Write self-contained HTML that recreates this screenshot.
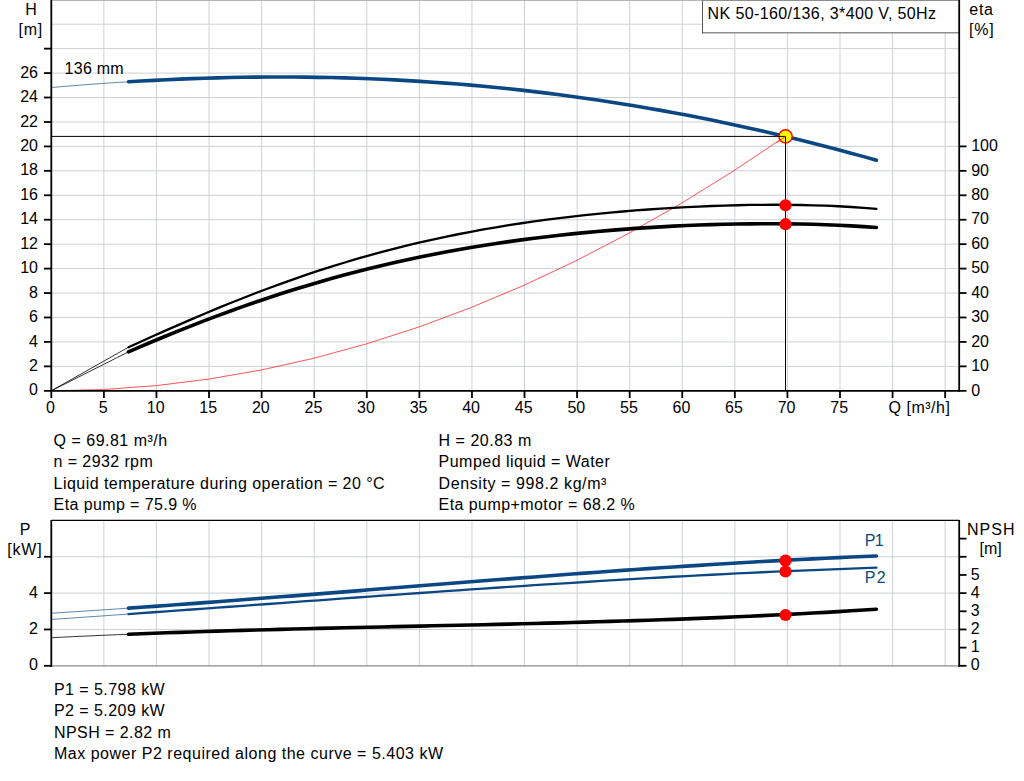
<!DOCTYPE html>
<html><head><meta charset="utf-8"><title>Pump curve</title>
<style>html,body{margin:0;padding:0;background:#fff;}body{width:1024px;height:781px;overflow:hidden;font-family:"Liberation Sans",sans-serif;}svg{display:block;}text{white-space:pre;}</style>
</head><body>
<svg width="1024" height="781" viewBox="0 0 1024 781">
<rect width="1024" height="781" fill="#fff"/>
<g stroke="#cdd1d4" stroke-width="1" fill="none">
<line x1="103.88" y1="0" x2="103.88" y2="390.8"/>
<line x1="103.88" y1="520.5" x2="103.88" y2="665.8"/>
<line x1="156.46" y1="0" x2="156.46" y2="390.8"/>
<line x1="156.46" y1="520.5" x2="156.46" y2="665.8"/>
<line x1="209.04" y1="0" x2="209.04" y2="390.8"/>
<line x1="209.04" y1="520.5" x2="209.04" y2="665.8"/>
<line x1="261.62" y1="0" x2="261.62" y2="390.8"/>
<line x1="261.62" y1="520.5" x2="261.62" y2="665.8"/>
<line x1="314.20" y1="0" x2="314.20" y2="390.8"/>
<line x1="314.20" y1="520.5" x2="314.20" y2="665.8"/>
<line x1="366.78" y1="0" x2="366.78" y2="390.8"/>
<line x1="366.78" y1="520.5" x2="366.78" y2="665.8"/>
<line x1="419.36" y1="0" x2="419.36" y2="390.8"/>
<line x1="419.36" y1="520.5" x2="419.36" y2="665.8"/>
<line x1="471.94" y1="0" x2="471.94" y2="390.8"/>
<line x1="471.94" y1="520.5" x2="471.94" y2="665.8"/>
<line x1="524.52" y1="0" x2="524.52" y2="390.8"/>
<line x1="524.52" y1="520.5" x2="524.52" y2="665.8"/>
<line x1="577.10" y1="0" x2="577.10" y2="390.8"/>
<line x1="577.10" y1="520.5" x2="577.10" y2="665.8"/>
<line x1="629.68" y1="0" x2="629.68" y2="390.8"/>
<line x1="629.68" y1="520.5" x2="629.68" y2="665.8"/>
<line x1="682.26" y1="0" x2="682.26" y2="390.8"/>
<line x1="682.26" y1="520.5" x2="682.26" y2="665.8"/>
<line x1="734.84" y1="0" x2="734.84" y2="390.8"/>
<line x1="734.84" y1="520.5" x2="734.84" y2="665.8"/>
<line x1="787.42" y1="0" x2="787.42" y2="390.8"/>
<line x1="787.42" y1="520.5" x2="787.42" y2="665.8"/>
<line x1="840.00" y1="0" x2="840.00" y2="390.8"/>
<line x1="840.00" y1="520.5" x2="840.00" y2="665.8"/>
<line x1="892.58" y1="0" x2="892.58" y2="390.8"/>
<line x1="892.58" y1="520.5" x2="892.58" y2="665.8"/>
<line x1="945.16" y1="0" x2="945.16" y2="390.8"/>
<line x1="945.16" y1="520.5" x2="945.16" y2="665.8"/>
<line x1="51.3" y1="366.36" x2="959.2" y2="366.36"/>
<line x1="51.3" y1="341.92" x2="959.2" y2="341.92"/>
<line x1="51.3" y1="317.48" x2="959.2" y2="317.48"/>
<line x1="51.3" y1="293.04" x2="959.2" y2="293.04"/>
<line x1="51.3" y1="268.60" x2="959.2" y2="268.60"/>
<line x1="51.3" y1="244.16" x2="959.2" y2="244.16"/>
<line x1="51.3" y1="219.72" x2="959.2" y2="219.72"/>
<line x1="51.3" y1="195.28" x2="959.2" y2="195.28"/>
<line x1="51.3" y1="170.84" x2="959.2" y2="170.84"/>
<line x1="51.3" y1="146.40" x2="959.2" y2="146.40"/>
<line x1="51.3" y1="121.96" x2="959.2" y2="121.96"/>
<line x1="51.3" y1="97.52" x2="959.2" y2="97.52"/>
<line x1="51.3" y1="73.08" x2="959.2" y2="73.08"/>
<line x1="51.3" y1="48.64" x2="959.2" y2="48.64"/>
<line x1="51.3" y1="24.20" x2="959.2" y2="24.20"/>
<line x1="51.3" y1="629.46" x2="959.2" y2="629.46"/>
<line x1="51.3" y1="593.12" x2="959.2" y2="593.12"/>
<line x1="51.3" y1="556.78" x2="959.2" y2="556.78"/>
</g>
<line x1="51.3" y1="0.45" x2="959.2" y2="0.45" stroke="#a8a8a8" stroke-width="0.9"/>
<line x1="51.3" y1="520.4" x2="959.2" y2="520.4" stroke="#000" stroke-width="1.2"/>
<line x1="51.3" y1="665.8" x2="959.2" y2="665.8" stroke="#8a8a8a" stroke-width="1.3"/>
<g fill="none" stroke-linecap="round" stroke-linejoin="round">
<path d="M51.30,390.80 L103.74,389.50 L156.17,385.61 L208.61,379.11 L261.05,370.02 L313.49,358.33 L365.92,344.05 L418.36,327.16 L470.80,307.68 L523.24,285.61 L575.67,260.93 L628.11,233.66 L680.55,203.79 L732.98,171.32 L785.42,136.26" stroke="#ff2a2a" stroke-width="0.8" stroke-linecap="butt"/>
<path d="M51.30,87.53 L59.88,86.79 L68.46,86.07 L77.03,85.38 L85.61,84.71 L94.19,84.06 L102.77,83.45 L111.34,82.86 L119.92,82.29 L128.50,81.75" stroke="#0a4783" stroke-width="0.65" stroke-linecap="butt"/>
<path d="M51.3,390.8 L128.5,347.19" stroke="#000" stroke-width="0.8" stroke-linecap="butt"/>
<path d="M51.3,390.8 L128.5,351.82" stroke="#000" stroke-width="0.8" stroke-linecap="butt"/>
<path d="M128.50,81.75 L141.18,81.01 L153.85,80.33 L166.53,79.70 L179.21,79.14 L191.88,78.65 L204.56,78.22 L217.23,77.85 L229.91,77.54 L242.59,77.31 L255.26,77.14 L267.94,77.04 L280.62,77.01 L293.29,77.04 L305.97,77.15 L318.64,77.33 L331.32,77.57 L344.00,77.89 L356.67,78.28 L369.35,78.75 L382.03,79.29 L394.70,79.90 L407.38,80.58 L420.05,81.34 L432.73,82.18 L445.41,83.09 L458.08,84.08 L470.76,85.14 L483.44,86.28 L496.11,87.49 L508.79,88.79 L521.46,90.16 L534.14,91.61 L546.82,93.13 L559.49,94.73 L572.17,96.42 L584.85,98.18 L597.52,100.01 L610.20,101.93 L622.87,103.92 L635.55,106.00 L648.23,108.15 L660.90,110.38 L673.58,112.69 L686.26,115.07 L698.93,117.54 L711.61,120.08 L724.28,122.70 L736.96,125.40 L749.64,128.18 L762.31,131.03 L774.99,133.96 L787.67,136.97 L800.34,140.06 L813.02,143.22 L825.69,146.46 L838.37,149.77 L851.05,153.16 L863.72,156.62 L876.40,160.16" stroke="#0a4783" stroke-width="3.6"/>
<path d="M128.50,347.19 L141.18,341.47 L153.85,335.79 L166.53,330.16 L179.21,324.59 L191.88,319.11 L204.56,313.72 L217.23,308.43 L229.91,303.25 L242.59,298.20 L255.26,293.27 L267.94,288.47 L280.62,283.81 L293.29,279.30 L305.97,274.93 L318.64,270.71 L331.32,266.64 L344.00,262.73 L356.67,258.97 L369.35,255.36 L382.03,251.90 L394.70,248.59 L407.38,245.44 L420.05,242.42 L432.73,239.56 L445.41,236.83 L458.08,234.25 L470.76,231.79 L483.44,229.47 L496.11,227.28 L508.79,225.21 L521.46,223.26 L534.14,221.42 L546.82,219.70 L559.49,218.08 L572.17,216.57 L584.85,215.15 L597.52,213.84 L610.20,212.62 L622.87,211.49 L635.55,210.45 L648.23,209.50 L660.90,208.63 L673.58,207.85 L686.26,207.15 L698.93,206.54 L711.61,206.01 L724.28,205.57 L736.96,205.23 L749.64,204.97 L762.31,204.81 L774.99,204.76 L787.67,204.81 L800.34,204.98 L813.02,205.28 L825.69,205.70 L838.37,206.27 L851.05,206.99 L863.72,207.88 L876.40,208.95" stroke="#000" stroke-width="2.3"/>
<path d="M128.50,351.82 L141.18,346.38 L153.85,341.03 L166.53,335.77 L179.21,330.63 L191.88,325.59 L204.56,320.67 L217.23,315.87 L229.91,311.20 L242.59,306.65 L255.26,302.24 L267.94,297.95 L280.62,293.80 L293.29,289.79 L305.97,285.91 L318.64,282.17 L331.32,278.56 L344.00,275.09 L356.67,271.76 L369.35,268.56 L382.03,265.49 L394.70,262.55 L407.38,259.75 L420.05,257.07 L432.73,254.51 L445.41,252.08 L458.08,249.76 L470.76,247.57 L483.44,245.49 L496.11,243.52 L508.79,241.65 L521.46,239.90 L534.14,238.24 L546.82,236.69 L559.49,235.24 L572.17,233.88 L584.85,232.61 L597.52,231.43 L610.20,230.34 L622.87,229.34 L635.55,228.42 L648.23,227.58 L660.90,226.83 L673.58,226.16 L686.26,225.57 L698.93,225.06 L711.61,224.63 L724.28,224.28 L736.96,224.02 L749.64,223.84 L762.31,223.74 L774.99,223.74 L787.67,223.83 L800.34,224.02 L813.02,224.31 L825.69,224.70 L838.37,225.21 L851.05,225.83 L863.72,226.58 L876.40,227.47" stroke="#000" stroke-width="3.6"/>
<path d="M51.30,613.21 L62.33,612.52 L73.36,611.81 L84.39,611.10 L95.41,610.37 L106.44,609.63 L117.47,608.88 L128.50,608.12" stroke="#0a4783" stroke-width="0.65" stroke-linecap="butt"/>
<path d="M51.30,619.45 L62.33,618.70 L73.36,617.94 L84.39,617.17 L95.41,616.41 L106.44,615.63 L117.47,614.85 L128.50,614.07" stroke="#0a4783" stroke-width="0.65" stroke-linecap="butt"/>
<path d="M51.30,637.72 L62.33,637.17 L73.36,636.64 L84.39,636.13 L95.41,635.63 L106.44,635.15 L117.47,634.69 L128.50,634.24" stroke="#000" stroke-width="0.8" stroke-linecap="butt"/>
<path d="M128.50,608.12 L141.18,607.24 L153.85,606.34 L166.53,605.43 L179.21,604.51 L191.88,603.58 L204.56,602.64 L217.23,601.69 L229.91,600.73 L242.59,599.77 L255.26,598.80 L267.94,597.82 L280.62,596.83 L293.29,595.84 L305.97,594.85 L318.64,593.85 L331.32,592.85 L344.00,591.84 L356.67,590.84 L369.35,589.83 L382.03,588.82 L394.70,587.81 L407.38,586.81 L420.05,585.80 L432.73,584.80 L445.41,583.80 L458.08,582.80 L470.76,581.80 L483.44,580.81 L496.11,579.83 L508.79,578.85 L521.46,577.88 L534.14,576.92 L546.82,575.96 L559.49,575.01 L572.17,574.07 L584.85,573.14 L597.52,572.22 L610.20,571.32 L622.87,570.42 L635.55,569.54 L648.23,568.67 L660.90,567.81 L673.58,566.97 L686.26,566.14 L698.93,565.33 L711.61,564.54 L724.28,563.76 L736.96,563.00 L749.64,562.26 L762.31,561.53 L774.99,560.83 L787.67,560.15 L800.34,559.49 L813.02,558.84 L825.69,558.23 L838.37,557.63 L851.05,557.06 L863.72,556.51 L876.40,555.99" stroke="#0a4783" stroke-width="3.6"/>
<path d="M128.50,614.07 L141.18,613.17 L153.85,612.26 L166.53,611.35 L179.21,610.44 L191.88,609.52 L204.56,608.60 L217.23,607.68 L229.91,606.75 L242.59,605.83 L255.26,604.90 L267.94,603.98 L280.62,603.05 L293.29,602.12 L305.97,601.20 L318.64,600.28 L331.32,599.36 L344.00,598.44 L356.67,597.52 L369.35,596.61 L382.03,595.70 L394.70,594.79 L407.38,593.89 L420.05,592.99 L432.73,592.10 L445.41,591.22 L458.08,590.34 L470.76,589.46 L483.44,588.60 L496.11,587.74 L508.79,586.89 L521.46,586.05 L534.14,585.22 L546.82,584.39 L559.49,583.58 L572.17,582.78 L584.85,581.98 L597.52,581.20 L610.20,580.43 L622.87,579.67 L635.55,578.93 L648.23,578.20 L660.90,577.48 L673.58,576.77 L686.26,576.08 L698.93,575.40 L711.61,574.74 L724.28,574.09 L736.96,573.46 L749.64,572.85 L762.31,572.25 L774.99,571.67 L787.67,571.10 L800.34,570.56 L813.02,570.03 L825.69,569.53 L838.37,569.04 L851.05,568.57 L863.72,568.12 L876.40,567.69" stroke="#0a4783" stroke-width="2.3"/>
<path d="M128.50,634.24 L141.18,633.74 L153.85,633.26 L166.53,632.80 L179.21,632.36 L191.88,631.94 L204.56,631.53 L217.23,631.13 L229.91,630.75 L242.59,630.38 L255.26,630.02 L267.94,629.68 L280.62,629.34 L293.29,629.01 L305.97,628.70 L318.64,628.39 L331.32,628.09 L344.00,627.79 L356.67,627.50 L369.35,627.21 L382.03,626.93 L394.70,626.65 L407.38,626.37 L420.05,626.09 L432.73,625.81 L445.41,625.53 L458.08,625.25 L470.76,624.96 L483.44,624.68 L496.11,624.39 L508.79,624.09 L521.46,623.78 L534.14,623.47 L546.82,623.16 L559.49,622.83 L572.17,622.49 L584.85,622.14 L597.52,621.78 L610.20,621.41 L622.87,621.03 L635.55,620.63 L648.23,620.22 L660.90,619.79 L673.58,619.34 L686.26,618.88 L698.93,618.39 L711.61,617.89 L724.28,617.37 L736.96,616.82 L749.64,616.26 L762.31,615.67 L774.99,615.05 L787.67,614.42 L800.34,613.75 L813.02,613.06 L825.69,612.34 L838.37,611.60 L851.05,610.82 L863.72,610.02 L876.40,609.18" stroke="#000" stroke-width="3.6"/>
</g>
<circle cx="785.50" cy="136.40" r="6.65" fill="#ffff00" stroke="#ff0000" stroke-width="1.4"/>
<path d="M51.3,136.40 L785.50,136.40 L785.50,390.8" fill="none" stroke="#000" stroke-width="1"/>
<line x1="776.50" y1="142.70" x2="785.50" y2="136.40" stroke="#ff2a2a" stroke-width="0.9"/>
<circle cx="785.50" cy="205.30" r="6.1" fill="#ff0000"/>
<circle cx="785.50" cy="224.20" r="6.1" fill="#ff0000"/>
<circle cx="785.50" cy="560.60" r="6.1" fill="#ff0000"/>
<circle cx="785.50" cy="571.50" r="6.1" fill="#ff0000"/>
<circle cx="785.50" cy="615.00" r="6.1" fill="#ff0000"/>
<rect x="702" y="0" width="257.2" height="33" fill="#fff"/>
<line x1="702" y1="32.75" x2="959.2" y2="32.75" stroke="#8e8e8e" stroke-width="1.5"/>
<line x1="702.5" y1="0" x2="702.5" y2="33.5" stroke="#585858" stroke-width="1"/>
<line x1="702" y1="0.45" x2="959.2" y2="0.45" stroke="#7a7a7a" stroke-width="0.9"/>
<g stroke="#000" stroke-width="1.8" fill="none">
<line x1="51.3" y1="0" x2="51.3" y2="391.8"/>
<line x1="959.2" y1="0" x2="959.2" y2="391.8"/>
<line x1="44" y1="390.8" x2="966.5" y2="390.8"/>
<line x1="51.3" y1="520" x2="51.3" y2="666.8"/>
<line x1="959.2" y1="520" x2="959.2" y2="666.8"/>
<line x1="44" y1="366.36" x2="51.3" y2="366.36"/>
<line x1="44" y1="341.92" x2="51.3" y2="341.92"/>
<line x1="44" y1="317.48" x2="51.3" y2="317.48"/>
<line x1="44" y1="293.04" x2="51.3" y2="293.04"/>
<line x1="44" y1="268.60" x2="51.3" y2="268.60"/>
<line x1="44" y1="244.16" x2="51.3" y2="244.16"/>
<line x1="44" y1="219.72" x2="51.3" y2="219.72"/>
<line x1="44" y1="195.28" x2="51.3" y2="195.28"/>
<line x1="44" y1="170.84" x2="51.3" y2="170.84"/>
<line x1="44" y1="146.40" x2="51.3" y2="146.40"/>
<line x1="44" y1="121.96" x2="51.3" y2="121.96"/>
<line x1="44" y1="97.52" x2="51.3" y2="97.52"/>
<line x1="44" y1="73.08" x2="51.3" y2="73.08"/>
<line x1="44" y1="48.64" x2="51.3" y2="48.64"/>
<line x1="959.2" y1="366.36" x2="966.5" y2="366.36"/>
<line x1="959.2" y1="341.92" x2="966.5" y2="341.92"/>
<line x1="959.2" y1="317.48" x2="966.5" y2="317.48"/>
<line x1="959.2" y1="293.04" x2="966.5" y2="293.04"/>
<line x1="959.2" y1="268.60" x2="966.5" y2="268.60"/>
<line x1="959.2" y1="244.16" x2="966.5" y2="244.16"/>
<line x1="959.2" y1="219.72" x2="966.5" y2="219.72"/>
<line x1="959.2" y1="195.28" x2="966.5" y2="195.28"/>
<line x1="959.2" y1="170.84" x2="966.5" y2="170.84"/>
<line x1="959.2" y1="146.40" x2="966.5" y2="146.40"/>
<line x1="51.30" y1="390.8" x2="51.30" y2="398"/>
<line x1="103.88" y1="390.8" x2="103.88" y2="398"/>
<line x1="156.46" y1="390.8" x2="156.46" y2="398"/>
<line x1="209.04" y1="390.8" x2="209.04" y2="398"/>
<line x1="261.62" y1="390.8" x2="261.62" y2="398"/>
<line x1="314.20" y1="390.8" x2="314.20" y2="398"/>
<line x1="366.78" y1="390.8" x2="366.78" y2="398"/>
<line x1="419.36" y1="390.8" x2="419.36" y2="398"/>
<line x1="471.94" y1="390.8" x2="471.94" y2="398"/>
<line x1="524.52" y1="390.8" x2="524.52" y2="398"/>
<line x1="577.10" y1="390.8" x2="577.10" y2="398"/>
<line x1="629.68" y1="390.8" x2="629.68" y2="398"/>
<line x1="682.26" y1="390.8" x2="682.26" y2="398"/>
<line x1="734.84" y1="390.8" x2="734.84" y2="398"/>
<line x1="787.42" y1="390.8" x2="787.42" y2="398"/>
<line x1="840.00" y1="390.8" x2="840.00" y2="398"/>
<line x1="892.58" y1="390.8" x2="892.58" y2="398"/>
<line x1="945.16" y1="390.8" x2="945.16" y2="398"/>
<line x1="44" y1="665.80" x2="51.3" y2="665.80"/>
<line x1="44" y1="629.46" x2="51.3" y2="629.46"/>
<line x1="44" y1="593.12" x2="51.3" y2="593.12"/>
<line x1="44" y1="556.78" x2="51.3" y2="556.78"/>
<line x1="959.2" y1="665.80" x2="966.5" y2="665.80"/>
<line x1="959.2" y1="647.63" x2="966.5" y2="647.63"/>
<line x1="959.2" y1="629.46" x2="966.5" y2="629.46"/>
<line x1="959.2" y1="611.29" x2="966.5" y2="611.29"/>
<line x1="959.2" y1="593.12" x2="966.5" y2="593.12"/>
<line x1="959.2" y1="574.95" x2="966.5" y2="574.95"/>
<line x1="959.2" y1="556.78" x2="966.5" y2="556.78"/>
<line x1="959.2" y1="538.61" x2="966.5" y2="538.61"/>
</g>
<g font-family="Liberation Sans, sans-serif" font-size="16" fill="#000">
<text x="38" y="395.4" text-anchor="end">0</text>
<text x="38" y="371.0" text-anchor="end">2</text>
<text x="38" y="346.5" text-anchor="end">4</text>
<text x="38" y="322.1" text-anchor="end">6</text>
<text x="38" y="297.6" text-anchor="end">8</text>
<text x="38" y="273.2" text-anchor="end">10</text>
<text x="38" y="248.8" text-anchor="end">12</text>
<text x="38" y="224.3" text-anchor="end">14</text>
<text x="38" y="199.9" text-anchor="end">16</text>
<text x="38" y="175.4" text-anchor="end">18</text>
<text x="38" y="151.0" text-anchor="end">20</text>
<text x="38" y="126.6" text-anchor="end">22</text>
<text x="38" y="102.1" text-anchor="end">24</text>
<text x="38" y="77.7" text-anchor="end">26</text>
<text x="971.2" y="395.5">0</text>
<text x="971.2" y="371.1">10</text>
<text x="971.2" y="346.6">20</text>
<text x="971.2" y="322.2">30</text>
<text x="971.2" y="297.7">40</text>
<text x="971.2" y="273.3">50</text>
<text x="971.2" y="248.9">60</text>
<text x="971.2" y="224.4">70</text>
<text x="971.2" y="200.0">80</text>
<text x="971.2" y="175.5">90</text>
<text x="971.2" y="151.1">100</text>
<text x="50.5" y="413" text-anchor="middle">0</text>
<text x="103.1" y="413" text-anchor="middle">5</text>
<text x="155.7" y="413" text-anchor="middle">10</text>
<text x="208.2" y="413" text-anchor="middle">15</text>
<text x="260.8" y="413" text-anchor="middle">20</text>
<text x="313.4" y="413" text-anchor="middle">25</text>
<text x="366.0" y="413" text-anchor="middle">30</text>
<text x="418.6" y="413" text-anchor="middle">35</text>
<text x="471.1" y="413" text-anchor="middle">40</text>
<text x="523.7" y="413" text-anchor="middle">45</text>
<text x="576.3" y="413" text-anchor="middle">50</text>
<text x="628.9" y="413" text-anchor="middle">55</text>
<text x="681.5" y="413" text-anchor="middle">60</text>
<text x="734.0" y="413" text-anchor="middle">65</text>
<text x="786.6" y="413" text-anchor="middle">70</text>
<text x="839.2" y="413" text-anchor="middle">75</text>
<text x="38" y="670.4" text-anchor="end">0</text>
<text x="38" y="634.1" text-anchor="end">2</text>
<text x="38" y="597.7" text-anchor="end">4</text>
<text x="970.8" y="670.4">0</text>
<text x="970.8" y="652.2">1</text>
<text x="970.8" y="634.1">2</text>
<text x="970.8" y="615.9">3</text>
<text x="970.8" y="597.7">4</text>
<text x="970.8" y="579.5">5</text>
<text x="31.1" y="14.8" text-anchor="middle">H</text>
<text x="25" y="535" text-anchor="middle">P</text>
<text x="990.6" y="554.3" text-anchor="middle">[m]</text>
<text x="53.6" y="445.5" textLength="113.57" lengthAdjust="spacing">Q = 69.81 m³/h</text>
<text x="53.6" y="466.7" textLength="99.13" lengthAdjust="spacing">n = 2932 rpm</text>
<text x="53.6" y="489" textLength="331.04" lengthAdjust="spacing">Liquid temperature during operation = 20 °C</text>
<text x="53.6" y="510" textLength="142.93" lengthAdjust="spacing">Eta pump = 75.9 %</text>
<text x="438.6" y="445.5" textLength="92.61" lengthAdjust="spacing">H = 20.83 m</text>
<text x="438.6" y="466.7" textLength="171.22" lengthAdjust="spacing">Pumped liquid = Water</text>
<text x="438.6" y="488.9" textLength="167.78" lengthAdjust="spacing">Density = 998.2 kg/m³</text>
<text x="438.6" y="510" textLength="196.08" lengthAdjust="spacing">Eta pump+motor = 68.2 %</text>
<text x="54" y="694.7" textLength="110.69" lengthAdjust="spacing">P1 = 5.798 kW</text>
<text x="54" y="716" textLength="110.69" lengthAdjust="spacing">P2 = 5.209 kW</text>
<text x="54" y="737.7" textLength="116.91" lengthAdjust="spacing">NPSH = 2.82 m</text>
<text x="54" y="759" textLength="389.09" lengthAdjust="spacing">Max power P2 required along the curve = 5.403 kW</text>
<text x="707.6" y="18.7" textLength="228.43" lengthAdjust="spacing">NK 50-160/136, 3*400 V, 50Hz</text>
<text x="64.6" y="73.8" textLength="59.10" lengthAdjust="spacing">136 mm</text>
<text x="18.4" y="34.9" textLength="23.82" lengthAdjust="spacing">[m]</text>
<text x="969.3" y="14.8" textLength="23.65" lengthAdjust="spacing">eta</text>
<text x="969.0" y="34.7" textLength="24.73" lengthAdjust="spacing">[%]</text>
<text x="967.0" y="534.6" textLength="47.65" lengthAdjust="spacing">NPSH</text>
<text x="7.3" y="554.6" textLength="34.40" lengthAdjust="spacing">[kW]</text>
<text x="864.8" y="545.7" textLength="18.98" lengthAdjust="spacing" fill="#0a4783">P1</text>
<text x="864.8" y="582.8" textLength="20.78" lengthAdjust="spacing" fill="#0a4783">P2</text>
<text x="888.62" y="413" textLength="61.28" lengthAdjust="spacing">Q [m³/h]</text>
</g>
</svg>
</body></html>
